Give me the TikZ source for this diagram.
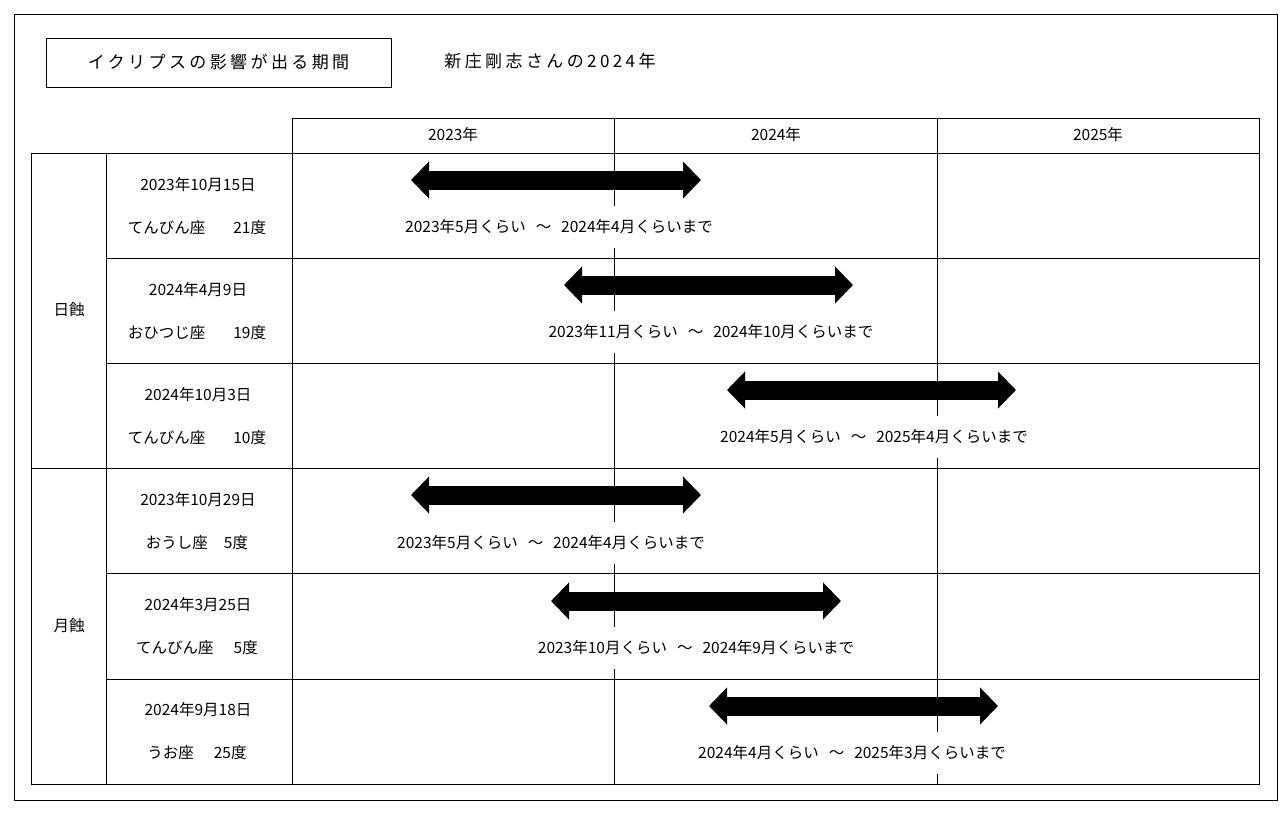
\documentclass[tikz,border=0pt]{standalone}
\usepackage{fontspec}
\setmainfont{Noto Sans CJK JP}
\newfontfamily\spacedjp[LetterSpace=20]{Noto Sans CJK JP}
\usetikzlibrary{arrows.meta}
\tikzset{
  cell text/.style={
    font=\fontsize{15.5}{18}\selectfont,
    inner sep=1pt,
  },
  period/.style={
    cell text,
    fill=white,
    inner xsep=3pt,
    inner ysep=14pt,
  },
  title box/.style={
    draw,
    line width=1pt,
    minimum width=345pt,
    minimum height=49pt,
    font=\spacedjp\fontsize{17}{20}\selectfont,
  },
  span arrow/.style={
    line width=19pt,
    {Triangle[width=36pt,length=18pt]}-{Triangle[width=36pt,length=18pt]},
  }
}

\begin{document}
\begin{tikzpicture}[x=1pt, y=-1pt, line width=1pt]
        \useasboundingbox (0,0) rectangle (1288,814);
        \draw (14,14) rectangle (1277,800);

        \node [title box] (title) at (218.5,62.5) {イクリプスの影響が出る期間};
        \node [cell text, font=\spacedjp\fontsize{17}{20}\selectfont] (owner) at (550,61) {新庄剛志さんの2024年};

        % table lines
        \draw (292,118) rectangle (1259,784);
        \draw (31,153) rectangle (292,784);
        \draw (106,153) -- (106,784);
        \draw (292,153) -- (1259,153);
        \draw (106,258) -- (1259,258);
        \draw (106,363) -- (1259,363);
        \draw (31,468) -- (1259,468);
        \draw (106,573) -- (1259,573);
        \draw (106,679) -- (1259,679);
        \draw (614,118) -- (614,784);
        \draw (937,118) -- (937,784);

        \node [cell text] (y1) at (453,135) {2023年};
        \node [cell text] (y2) at (776,135) {2024年};
        \node [cell text] (y3) at (1098,135) {2025年};

        \node [cell text] (solar) at (69,310) {日蝕};
        \node [cell text] (lunar) at (69,626) {月蝕};

        \node [cell text] (d1) at (198,185) {2023年10月15日};
        \node [cell text] (s1) at (197,228) {てんびん座\hspace{28pt}21度};
        \node [cell text] (d2) at (198,290) {2024年4月9日};
        \node [cell text] (s2) at (197,333) {おひつじ座\hspace{28pt}19度};
        \node [cell text] (d3) at (198,395) {2024年10月3日};
        \node [cell text] (s3) at (197,438) {てんびん座\hspace{28pt}10度};
        \node [cell text] (d4) at (198,500) {2023年10月29日};
        \node [cell text] (s4) at (197,543) {おうし座\hspace{16pt}5度};
        \node [cell text] (d5) at (198,605) {2024年3月25日};
        \node [cell text] (s5) at (197,648) {てんびん座\hspace{20pt}5度};
        \node [cell text] (d6) at (198,710) {2024年9月18日};
        \node [cell text] (s6) at (197,753) {うお座\hspace{20pt}25度};

        % arrows
        \coordinate (a1w) at (411,180); \coordinate (a1e) at (701,180);
        \coordinate (a2w) at (564,285); \coordinate (a2e) at (853,285);
        \coordinate (a3w) at (727,390); \coordinate (a3e) at (1016,390);
        \coordinate (a4w) at (411,495); \coordinate (a4e) at (701,495);
        \coordinate (a5w) at (551,601); \coordinate (a5e) at (841,601);
        \coordinate (a6w) at (709,706); \coordinate (a6e) at (998,706);
        \draw [span arrow] (a1w) -- (a1e);
        \draw [span arrow] (a2w) -- (a2e);
        \draw [span arrow] (a3w) -- (a3e);
        \draw [span arrow] (a4w) -- (a4e);
        \draw [span arrow] (a5w) -- (a5e);
        \draw [span arrow] (a6w) -- (a6e);

        \node [period] (p1) at (559,227) {2023年5月くらい\hspace{10pt}～\hspace{10pt}2024年4月くらいまで};
        \node [period] (p2) at (711,332) {2023年11月くらい\hspace{10pt}～\hspace{10pt}2024年10月くらいまで};
        \node [period] (p3) at (874,437) {2024年5月くらい\hspace{10pt}～\hspace{10pt}2025年4月くらいまで};
        \node [period] (p4) at (551,543) {2023年5月くらい\hspace{10pt}～\hspace{10pt}2024年4月くらいまで};
        \node [period] (p5) at (696,648) {2023年10月くらい\hspace{10pt}～\hspace{10pt}2024年9月くらいまで};
        \node [period] (p6) at (852,753) {2024年4月くらい\hspace{10pt}～\hspace{10pt}2025年3月くらいまで};
      \end{tikzpicture}
\end{document}
